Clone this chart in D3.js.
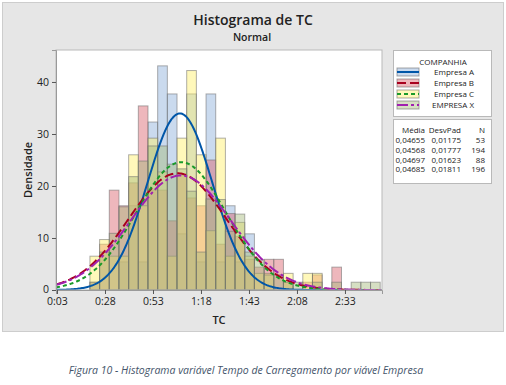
<!DOCTYPE html>
<html><head><meta charset="utf-8">
<script src="https://cdn.jsdelivr.net/npm/d3@7"></script>
<style>body{margin:0;background:#fff}svg{display:block}text{font-family:"Open Sans","Noto Sans",sans-serif}</style>
</head><body><svg id="c" width="506" height="385"></svg>
<script>
// ---- data ----
const series = ["Empresa A","Empresa B","Empresa C","EMPRESA X"];
const means  = [0.04655,0.04568,0.04697,0.04685];
const sds    = [0.01175,0.01777,0.01623,0.01811];
const counts = [53,194,88,196];
const meanLabels = ["0,04655","0,04568","0,04697","0,04685"];
const sdLabels   = ["0,01175","0,01777","0,01623","0,01811"];
const binStart = 0.014, binWidth = 0.0035, binCount = 30;
// densities per bin
const densA = [0,0,0,5.4,16.2,5.4,32.3,43.1,37.7,10.8,37.7,5.4,37.7,5.4,16.2,5.4,10.8,0,0,0,0,0,0,0,0,0,0,0,0,0];
const densB = [1.5,8.8,19.2,16.2,20.6,35.4,19.2,19.2,13.3,22.1,17.7,16.2,25.0,8.8,14.7,10.3,5.9,4.4,5.9,5.9,1.5,0,1.5,2.9,0,4.4,0,0,0,0];
const densC = [6.5,9.7,6.5,6.5,26.0,16.2,29.2,22.7,6.5,29.2,42.2,26.0,11.4,29.2,6.5,13.0,6.5,3.2,3.2,0,3.2,0,3.2,3.2,0,0,0,0,0,0];
const densX = [1.5,7.3,10.9,16.0,21.8,24.8,27.7,27.7,24.2,23.3,19.0,7.3,17.5,17.4,11.3,14.6,7.3,5.8,2.9,2.9,1.5,1.5,0,1.5,0,1.5,0,1.5,1.5,1.5];
const tickMinutes = [3,28,53,78,103,128,153];
const tickLabels = ["0:03","0:28","0:53","1:18","1:43","2:08","2:33"];
const yTicks = [0,10,20,30,40];

// ---- styles ----
const fills = ["#8aaed9","#d9606a","#fff066","#a3b97a"];
const lineCols = ["#0056a8","#a8001e","#1a9a2a","#a020b0"];
const dashes = [null,"9,4","4,3","11,3,3,3"];

const svg = d3.select("#c");
svg.append("rect").attr("x",2.5).attr("y",2.5).attr("width",501).attr("height",329)
  .attr("fill","#e6e6e6").attr("stroke","#cdcdcd");

const L=56,R=382,T=50,B=290;
const x = d3.scaleLinear().domain([0.001722,0.11965]).range([L,R]);
const y = d3.scaleLinear().domain([0,46.15]).range([B,T]);

svg.append("rect").attr("x",L).attr("y",T).attr("width",R-L).attr("height",B-T)
  .attr("fill","#fff");
svg.append("defs").append("clipPath").attr("id","clip").append("rect")
  .attr("x",L).attr("y",T).attr("width",R-L).attr("height",B-T);

const plot = svg.append("g").attr("clip-path","url(#clip)");
const dens = [densA,densB,densC,densX];
dens.forEach((arr,s)=>{
  plot.append("g").selectAll("rect").data(arr.map((v,i)=>({v,i})).filter(d=>d.v>0)).join("rect")
    .attr("x",d=>x(binStart+d.i*binWidth))
    .attr("width",d=>x(binStart+(d.i+1)*binWidth)-x(binStart+d.i*binWidth))
    .attr("y",d=>y(d.v)).attr("height",d=>y(0)-y(d.v))
    .attr("fill",fills[s]).attr("fill-opacity",0.45)
    .attr("stroke","#6e6e6e").attr("stroke-opacity",0.55).attr("stroke-width",1);
});
const pdf=(v,m,sd)=>Math.exp(-0.5*((v-m)/sd)**2)/(sd*Math.sqrt(2*Math.PI));
const xs = d3.range(0,301).map(k=>x.domain()[0]+k*(x.domain()[1]-x.domain()[0])/300);
means.forEach((m,s)=>{
  plot.append("path").datum(xs).attr("fill","none")
    .attr("stroke",lineCols[s]).attr("stroke-width",2)
    .attr("stroke-dasharray",dashes[s])
    .attr("d",d3.line().x(d=>x(d)).y(d=>y(pdf(d,m,sds[s]))));
});
svg.append("rect").attr("x",L).attr("y",T).attr("width",R-L).attr("height",B-T)
  .attr("fill","none").attr("stroke","#b9b9b9");

// axes
const xa = svg.append("g").attr("transform",`translate(0,${B})`)
  .call(d3.axisBottom(x).tickValues(tickMinutes.map(m=>m/1440)).tickSize(4).tickPadding(4)
  .tickFormat((d,i)=>tickLabels[i]));
const ya = svg.append("g").attr("transform",`translate(${L},0)`)
  .call(d3.axisLeft(y).tickValues(yTicks).tickSize(4).tickPadding(3));
[xa,ya].forEach(g=>{
  g.select(".domain").attr("stroke","#9a9a9a");
  g.selectAll(".tick line").attr("stroke","#555");
  g.selectAll(".tick text").attr("fill","#222").style("font-size","10.5px")
   .style("font-family","'Open Sans','Noto Sans',sans-serif");
});
ya.selectAll(".tick text").filter(d=>d===0).attr("dy","0.2em");

// titles
svg.append("text").attr("x",253).attr("y",25).attr("text-anchor","middle")
  .style("font-size","14px").style("font-weight",600).attr("fill","#222").text("Histograma de TC");
svg.append("text").attr("x",252).attr("y",41).attr("text-anchor","middle")
  .style("font-size","10.5px").style("font-weight",600).attr("fill","#222").text("Normal");
svg.append("text").attr("x",219).attr("y",324).attr("text-anchor","middle")
  .style("font-size","11px").style("font-weight",600).attr("fill","#222").text("TC");
svg.append("text").attr("transform","translate(32,170) rotate(-90)").attr("text-anchor","middle")
  .style("font-size","11px").style("font-weight",600).attr("fill","#222").text("Densidade");

// legend
const lg = svg.append("g");
lg.append("rect").attr("x",393.5).attr("y",50.5).attr("width",98).attr("height",66)
  .attr("fill","#fff").attr("stroke","#b9b9b9");
lg.append("text").attr("x",443).attr("y",65).attr("text-anchor","middle")
  .style("font-size","8px").attr("fill","#222").text("COMPANHIA");
series.forEach((nm,s)=>{
  const cy = 72+s*11;
  lg.append("rect").attr("x",397).attr("y",cy-4).attr("width",22).attr("height",8)
    .attr("fill",fills[s]).attr("fill-opacity",0.45).attr("stroke","#6e6e6e").attr("stroke-opacity",0.6);
  lg.append("line").attr("x1",397).attr("x2",419).attr("y1",cy).attr("y2",cy)
    .attr("stroke",lineCols[s]).attr("stroke-width",2).attr("stroke-dasharray",dashes[s]);
  lg.append("text").attr("x",474).attr("y",cy+3).attr("text-anchor","end")
    .style("font-size","8px").attr("fill","#222").text(nm);
});
const st = svg.append("g");
st.append("rect").attr("x",393.5).attr("y",119.5).attr("width",98).attr("height",64)
  .attr("fill","#fff").attr("stroke","#b9b9b9");
const cols = [425,461,485];
["Média","DesvPad","N"].forEach((h,j)=>st.append("text").attr("x",cols[j]).attr("y",133)
  .attr("text-anchor","end").style("font-size","8px").attr("fill","#222").text(h));
series.forEach((nm,s)=>{
  [meanLabels[s],sdLabels[s],String(counts[s])].forEach((t,j)=>st.append("text")
    .attr("x",cols[j]).attr("y",143+s*9.8).attr("text-anchor","end")
    .style("font-size","8px").attr("fill","#222").text(t));
});

// caption
svg.append("text").attr("x",246).attr("y",374).attr("text-anchor","middle")
  .style("font-size","10.5px").style("font-style","italic").attr("fill","#44546a")
  .text("Figura 10 - Histograma variável Tempo de Carregamento por viável Empresa");
</script></body></html>
